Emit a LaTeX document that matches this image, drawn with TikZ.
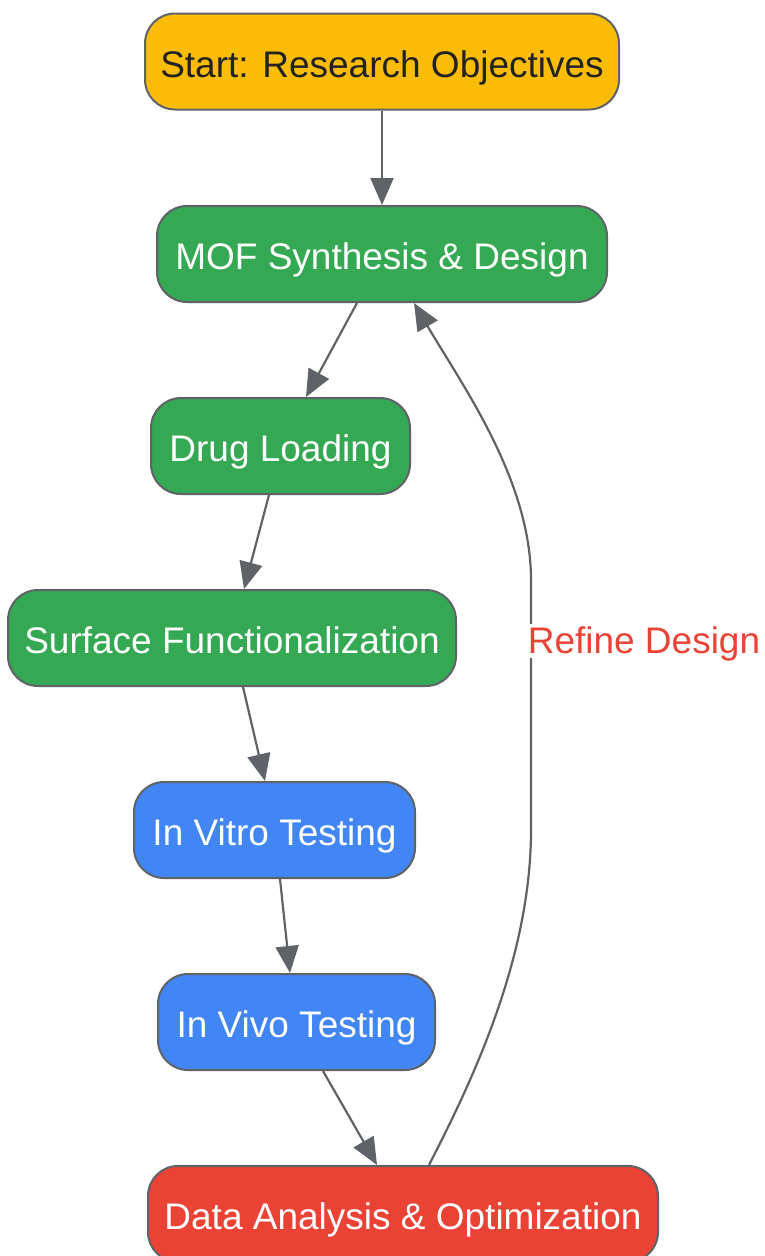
\documentclass[tikz,border=0pt]{standalone}
\usepackage{fontspec}
\setmainfont{Liberation Sans}
\usetikzlibrary{arrows.meta}
\definecolor{cyellow}{HTML}{FBBC05}
\definecolor{cgreen}{HTML}{34A853}
\definecolor{cblue}{HTML}{4285F4}
\definecolor{cred}{HTML}{EA4335}
\definecolor{cline}{HTML}{5F6368}
\definecolor{cdark}{HTML}{222222}
\begin{document}
\begin{tikzpicture}[x=1pt,y=-1pt,
  box/.style={draw=cline, line width=2pt, rounded corners=30pt, minimum height=96pt,
    inner sep=0pt, text height=35pt, text depth=4pt,
    font=\fontsize{37}{44}\selectfont, text=white},
  conn/.style={draw=cline, line width=2.2pt, -{Triangle[length=27pt,width=23pt]}},
  lbl/.style={text=cred, font=\fontsize{37}{44}\selectfont, fill=white, inner sep=1pt,
    text height=28pt, text depth=4pt}]
\clip (0,0) rectangle (764,1256);
\useasboundingbox (0,0) rectangle (764,1256);
\node[box, fill=cyellow, text=cdark, minimum width=474pt] (start) at (382,61.5) {Start: Research Objectives};
\node[box, fill=cgreen, minimum width=450pt] (mof) at (382,254) {MOF Synthesis \& Design};
\node[box, fill=cgreen, minimum width=259pt] (drug) at (280.5,446) {Drug Loading};
\node[box, fill=cgreen, minimum width=448pt] (surf) at (232,638) {Surface Functionalization};
\node[box, fill=cblue, minimum width=281pt] (vitro) at (274.5,830) {In Vitro Testing};
\node[box, fill=cblue, minimum width=277pt] (vivo) at (296.5,1022) {In Vivo Testing};
\node[box, fill=cred, minimum width=510pt] (data) at (403,1214) {Data Analysis \& Optimization};
\path[conn] (start.south) -- (mof.north);
\path[conn] ([xshift=-25pt]mof.south) -- ([xshift=25.5pt]drug.north);
\path[conn] ([xshift=-11.5pt]drug.south) -- ([xshift=12pt]surf.north);
\path[conn] ([xshift=11pt]surf.south) -- ([xshift=-9.5pt]vitro.north);
\path[conn] ([xshift=5.5pt]vitro.south) -- ([xshift=-6.5pt]vivo.north);
\path[conn] ([xshift=26.5pt]vivo.south) -- ([xshift=-26pt]data.north);
\coordinate (c1) at (531,830);
\coordinate (c2) at (531,580);
\path[conn] ([xshift=26pt]data.north) .. controls (470,1085) and (531,960) .. (c1)
  -- (c2) .. controls (531,480) and (462,385) .. ([xshift=32pt]mof.south);
\node[lbl] (refine) at (644,641) {Refine Design};
\end{tikzpicture}
\end{document}
